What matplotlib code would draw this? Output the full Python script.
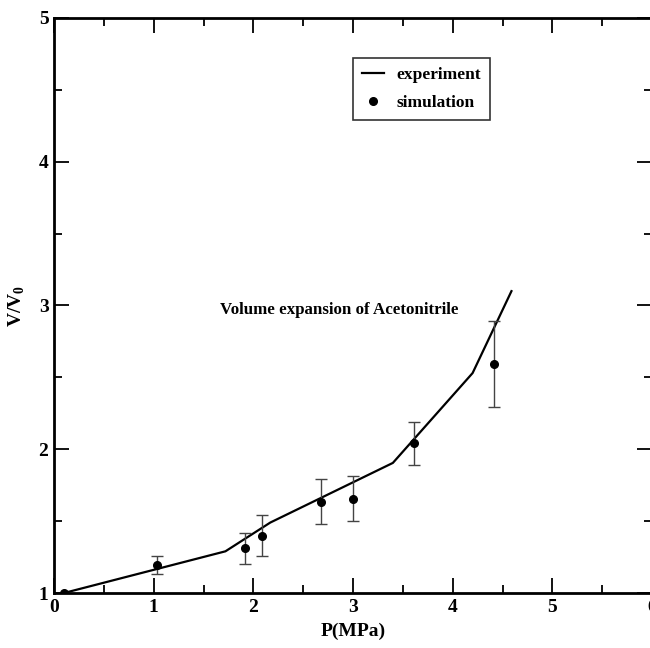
import matplotlib
matplotlib.use('Agg')
import matplotlib.pyplot as plt
from matplotlib.ticker import MultipleLocator

# experiment curve
exp_p = [0.1, 1.72, 2.17, 3.40, 4.20, 4.59]
exp_v = [1.0, 1.29, 1.49, 1.905, 2.53, 3.10]

# simulation points with error bars
sim_p = [0.1, 1.03, 1.92, 2.09, 2.68, 3.00, 3.61, 4.41]
sim_v = [1.0, 1.195, 1.31, 1.40, 1.635, 1.656, 2.04, 2.595]
sim_err = [0.0, 0.06, 0.11, 0.14, 0.155, 0.155, 0.15, 0.30]

plt.rcParams['font.family'] = ['Liberation Serif', 'DejaVu Serif']
plt.rcParams['font.weight'] = 'bold'
plt.rcParams['mathtext.fontset'] = 'custom'
plt.rcParams['mathtext.rm'] = 'Liberation Serif:bold'
plt.rcParams['mathtext.bf'] = 'Liberation Serif:bold'

fig = plt.figure(figsize=(6.5, 6.48), dpi=100)
ax = fig.add_axes([54 / 650, 55 / 648, 598 / 650, 575 / 648])

ax.plot(exp_p, exp_v, color='black', lw=1.6, label='experiment')
ax.errorbar(sim_p[1:], sim_v[1:], yerr=sim_err[1:], fmt='none',
            ecolor='#444444', elinewidth=1.0, capsize=4.5, capthick=1.0)
ax.plot(sim_p, sim_v, 'o', color='black', ms=5.5, label='simulation')

ax.text(1.67, 2.97, 'Volume expansion of Acetonitrile', fontsize=12.2,
        fontweight='bold', va='center', ha='left')

ax.set_xlim(0, 6)
ax.set_ylim(1, 5)
ax.xaxis.set_major_locator(MultipleLocator(1))
ax.xaxis.set_minor_locator(MultipleLocator(0.5))
ax.yaxis.set_major_locator(MultipleLocator(1))
ax.yaxis.set_minor_locator(MultipleLocator(0.5))
ax.tick_params(which='both', direction='in', top=True, right=True,
               labelsize=14, width=1.3, pad=4)
ax.tick_params(which='major', length=11)
ax.tick_params(which='minor', length=5.5)
for s in ax.spines.values():
    s.set_linewidth(2.0)

ax.set_xlabel('P(MPa)', fontsize=14, fontweight='bold', labelpad=5)
ax.set_ylabel(r'V/V$_\mathbf{0}$', fontsize=14, fontweight='bold', labelpad=8)

leg = ax.legend(loc='upper left', bbox_to_anchor=(0.5, 0.93), fontsize=12.5,
                fancybox=False, edgecolor='black', handlelength=1.3,
                borderpad=0.5, labelspacing=0.7, handletextpad=0.7,
                borderaxespad=0)
leg.get_frame().set_linewidth(1.2)

fig.savefig('out.png', dpi=100)
